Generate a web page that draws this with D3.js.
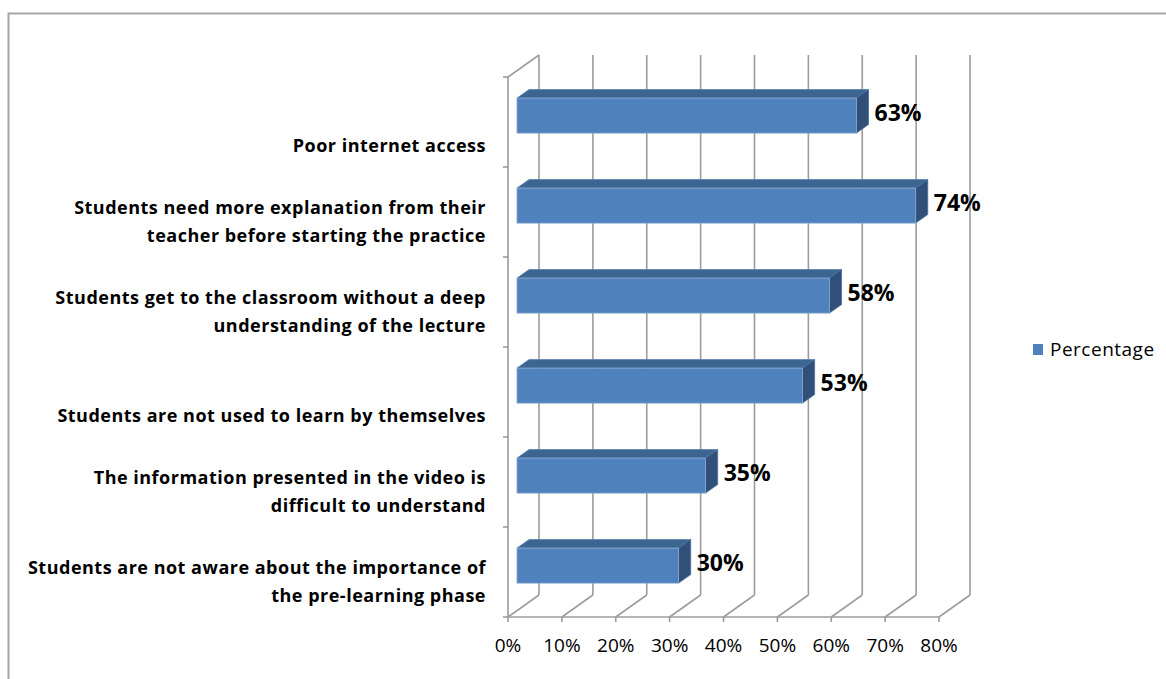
<!DOCTYPE html>
<html><head><meta charset="utf-8">
<script src="https://cdn.jsdelivr.net/npm/d3@7"></script>
<style>body{margin:0;background:#fff}svg{display:block}</style>
</head><body>
<svg id="c" width="1166" height="679"></svg>
<script>
const categories = [
  ["Poor internet access"],
  ["Students need more explanation from their", "teacher before starting the practice"],
  ["Students get to the classroom without a deep", "understanding of the lecture"],
  ["Students are not used to learn by themselves"],
  ["The information presented in the video is", "difficult to understand"],
  ["Students are not aware about the importance of", "the pre-learning phase"]
];
const values = [0.63, 0.74, 0.58, 0.53, 0.35, 0.30];
const valueLabels = ["63%", "74%", "58%", "53%", "35%", "30%"];
const tickValues = [0, 0.1, 0.2, 0.3, 0.4, 0.5, 0.6, 0.7, 0.8];
const seriesName = "Percentage";

const svg = d3.select("#c");
const grid = "#9c9c9c";
const DX = 31, DY = -22;           // depth offset of back wall
const x = d3.scaleLinear().domain([0, 0.8]).range([508, 939]);
const keys = categories.map((d, i) => i);
const y = d3.scaleBand().domain(keys).range([77, 617]);

// outer frame
svg.append("rect").attr("x", 8.5).attr("y", 13.5).attr("width", 1170).attr("height", 680)
  .attr("fill", "none").attr("stroke", "#a6a6a6").attr("stroke-width", 2);

const g = svg.append("g");
tickValues.forEach(v => {
  g.append("line").attr("x1", x(v) + DX).attr("x2", x(v) + DX)
    .attr("y1", 617 + DY).attr("y2", 77 + DY).attr("stroke", grid).attr("stroke-width", 1.6);
  g.append("line").attr("x1", x(v)).attr("x2", x(v) + DX)
    .attr("y1", 617).attr("y2", 617 + DY).attr("stroke", grid).attr("stroke-width", 1.6);
  g.append("line").attr("x1", x(v)).attr("x2", x(v))
    .attr("y1", 617).attr("y2", 622).attr("stroke", grid).attr("stroke-width", 1.6);
});
g.append("line").attr("x1", x(0)).attr("x2", x(0)).attr("y1", 77).attr("y2", 617)
  .attr("stroke", grid).attr("stroke-width", 1.6);
g.append("line").attr("x1", x(0)).attr("x2", x(0) + DX).attr("y1", 77).attr("y2", 77 + DY)
  .attr("stroke", grid).attr("stroke-width", 1.6);
g.append("line").attr("x1", x(0)).attr("x2", x(0.8)).attr("y1", 617).attr("y2", 617)
  .attr("stroke", grid).attr("stroke-width", 1.6);
[...keys.map(k => y(k)), 617].forEach(t => {
  g.append("line").attr("x1", x(0) - 5).attr("x2", x(0)).attr("y1", t).attr("y2", t)
    .attr("stroke", grid).attr("stroke-width", 1.6);
});

// tick labels
svg.append("g").selectAll("text").data(tickValues).join("text")
  .attr("x", d => x(d)).attr("y", 652).attr("text-anchor", "middle")
  .attr("font-family", "Open Sans").attr("font-size", 19).attr("fill", "#000")
  .text(d => Math.round(d * 100) + "%");

// bars
const f0 = 0.29, f1 = 0.68;
const bh = 35;
const bars = svg.append("g");
keys.forEach(k => {
  const cy = y(k) + y.bandwidth() / 2 + DY * f0;
  const x0 = x(0) + DX * f0, x1 = x(values[k]) + DX * f0;
  const top = cy - bh / 2, bot = cy + bh / 2;
  const ox = DX * (f1 - f0), oy = DY * (f1 - f0);
  bars.append("path").attr("d", `M${x0},${top}L${x0+ox},${top+oy}L${x1+ox},${top+oy}L${x1},${top}Z`)
    .attr("fill", "#3d6592").attr("stroke", "#5a83b3").attr("stroke-width", 0.8);
  bars.append("path").attr("d", `M${x1},${top}L${x1+ox},${top+oy}L${x1+ox},${bot+oy}L${x1},${bot}Z`)
    .attr("fill", "#30507a").attr("stroke", "#4a6e9c").attr("stroke-width", 0.8);
  bars.append("rect").attr("x", x0).attr("y", top).attr("width", x1 - x0).attr("height", bh)
    .attr("fill", "#4f81bd").attr("stroke", "#8aa9d2").attr("stroke-width", 0.8);
  bars.append("text").attr("x", x1 + ox + 6).attr("y", cy + 5)
    .attr("font-family", "Open Sans").attr("font-weight", "bold").attr("font-size", 23)
    .attr("fill", "#000").text(valueLabels[k]);
});

// category labels
const lab = svg.append("g");
keys.forEach(k => {
  const lines = categories[k];
  const cy = y(k) + y.bandwidth() / 2;
  lines.forEach((ln, i) => {
    lab.append("text").attr("x", 486).attr("y", cy + 29.5 - (lines.length - 1 - i) * 28)
      .attr("text-anchor", "end").attr("font-family", "Open Sans").attr("font-weight", "bold")
      .attr("font-size", 18).attr("letter-spacing", 0.5).attr("fill", "#000").text(ln);
  });
});

// legend
svg.append("rect").attr("x", 1033).attr("y", 344).attr("width", 10).attr("height", 11).attr("fill", "#4f81bd");
svg.append("text").attr("x", 1050).attr("y", 356).attr("font-family", "Open Sans").attr("font-size", 19)
  .attr("letter-spacing", 0.5).attr("fill", "#000").text(seriesName);
</script>
</body></html>
